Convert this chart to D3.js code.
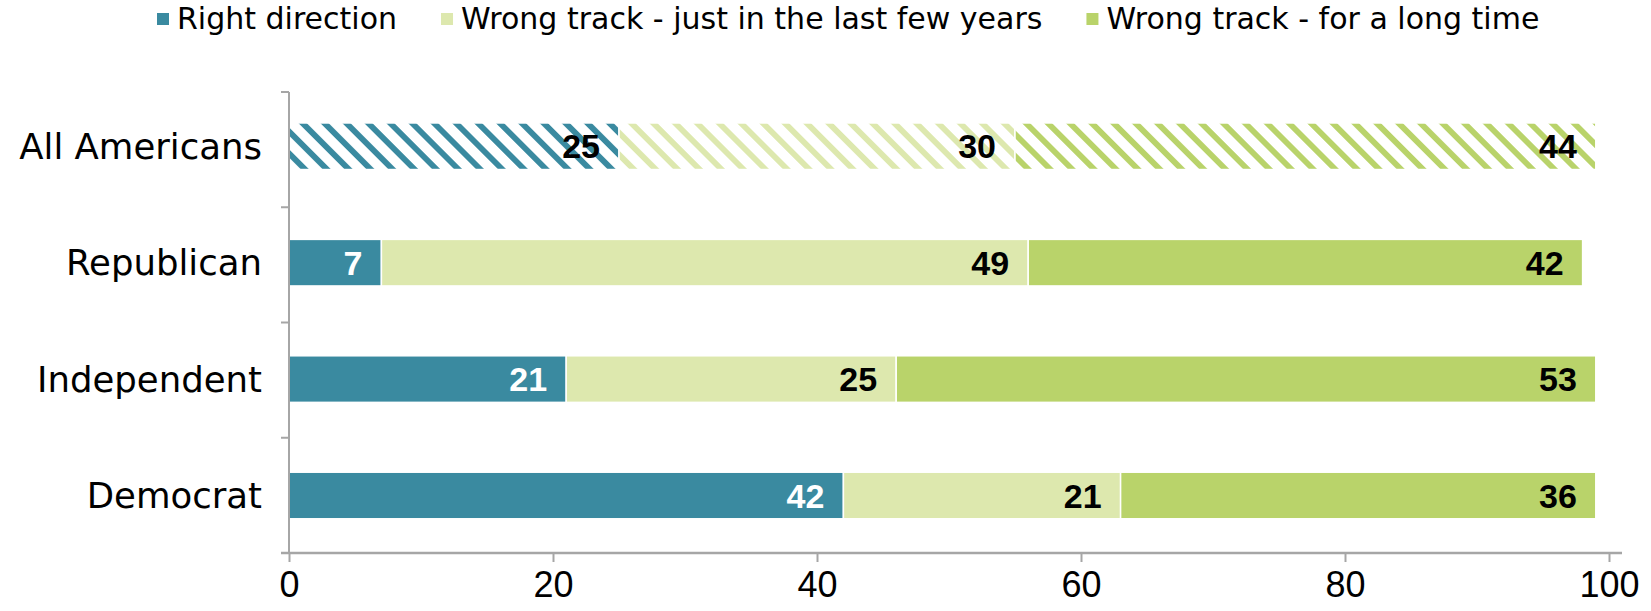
<!DOCTYPE html>
<html>
<head>
<meta charset="utf-8">
<script src="https://cdn.jsdelivr.net/npm/d3@7"></script>
<style>
  body { margin: 0; background: #fff; }
  svg { display: block; }
</style>
</head>
<body>
<div id="chart"></div>
<script>
const categories = ["All Americans", "Republican", "Independent", "Democrat"];
const series = ["Right direction", "Wrong track - just in the last few years", "Wrong track - for a long time"];
const rightDirection = [25, 7, 21, 42];
const wrongRecent = [30, 49, 25, 21];
const wrongLong = [44, 42, 53, 36];
const xTicks = [0, 20, 40, 60, 80, 100];
const hatched = ["All Americans"];

const colores = ["#3a8aa0", "#dde8ae", "#b9d36a"];
const W = 1651, H = 611;
const margin = {left: 289, right: 42, top: 92, bottom: 58};
const fuente = "DejaVu Sans, Verdana, sans-serif";
const fuenteNum = "Liberation Sans, Arial, sans-serif";

const svg = d3.select("#chart").append("svg")
    .attr("width", W).attr("height", H);

const defs = svg.append("defs");
colores.forEach((c, i) => {
    const p = defs.append("pattern")
        .attr("id", "hatch" + i)
        .attr("patternUnits", "userSpaceOnUse")
        .attr("width", 15.5).attr("height", 15.5)
        .attr("patternTransform", "rotate(-45)");
    p.append("rect").attr("width", 15.5).attr("height", 15.5).attr("fill", "#fff");
    p.append("rect").attr("x", 0).attr("width", 5.8).attr("height", 15.5).attr("fill", c);
});

const scx = d3.scaleLinear([0, 100], [margin.left, W - margin.right]);
const scy = d3.scaleBand(categories, [margin.top, H - margin.bottom])
    .paddingInner(0.6).paddingOuter(0.28).align(0.475);
const bands = d3.scaleBand(categories, [margin.top, H - margin.bottom]);

const filas = categories.map((c, i) => ({cat: c, vals: [rightDirection[i], wrongRecent[i], wrongLong[i]]}));
const stack = d3.stack().keys([0, 1, 2]).value((d, k) => d.vals[k]);
const capas = stack(filas);

const gridColor = "#a6a6a6";

// barras
capas.forEach((capa, k) => {
    const g = svg.append("g");
    g.selectAll("rect")
        .data(capa)
        .join("rect")
        .attr("x", d => scx(d[0]))
        .attr("y", d => scy(d.data.cat))
        .attr("width", d => scx(d[1]) - scx(d[0]))
        .attr("height", scy.bandwidth())
        .attr("fill", d => hatched.includes(d.data.cat) ? "url(#hatch" + k + ")" : colores[k])
        .attr("stroke", "#fff")
        .attr("stroke-width", 1.5);

    g.selectAll("text")
        .data(capa)
        .join("text")
        .attr("x", d => scx(d[1]) - 19)
        .attr("y", d => scy(d.data.cat) + scy.bandwidth() / 2)
        .attr("dy", "0.36em")
        .attr("text-anchor", "end")
        .attr("font-family", fuenteNum)
        .attr("font-weight", "bold")
        .attr("font-size", 34)
        .attr("fill", d => (k === 0 && !hatched.includes(d.data.cat)) ? "#fff" : "#000")
        .text(d => d[1] - d[0]);
});

// eje y
const yAxis = svg.append("g");
yAxis.append("line")
    .attr("x1", margin.left).attr("x2", margin.left)
    .attr("y1", margin.top).attr("y2", H - margin.bottom)
    .attr("stroke", gridColor).attr("stroke-width", 2);
const yTickPos = categories.map(c => bands(c));
yAxis.selectAll(".ytick")
    .data(yTickPos)
    .join("line")
    .attr("class", "ytick")
    .attr("x1", margin.left - 8).attr("x2", margin.left)
    .attr("y1", d => d).attr("y2", d => d)
    .attr("stroke", gridColor).attr("stroke-width", 2);
yAxis.selectAll("text")
    .data(categories)
    .join("text")
    .attr("x", margin.left - 27)
    .attr("y", d => scy(d) + scy.bandwidth() / 2)
    .attr("dy", "0.36em")
    .attr("text-anchor", "end")
    .attr("font-family", fuente)
    .attr("font-size", 35.5)
    .attr("fill", "#000")
    .text(d => d);

// eje x
const xAxis = svg.append("g")
    .attr("transform", `translate(0,${H - margin.bottom})`)
    .call(d3.axisBottom(scx).tickValues(xTicks).tickSize(9).tickPadding(9));
xAxis.select(".domain")
    .attr("d", `M${margin.left - 8},0H${scx(100) + 13}`)
    .attr("stroke", gridColor).attr("stroke-width", 2.5);
xAxis.selectAll(".tick line").attr("stroke", gridColor).attr("stroke-width", 2);
xAxis.selectAll(".tick text")
    .attr("font-family", fuenteNum)
    .attr("font-size", 36)
    .attr("fill", "#000");

// leyenda: cuadro, texto y separacion, uno tras otro
const leg = svg.append("g");
let legX = 157;
series.forEach((s, i) => {
    leg.append("rect")
        .attr("x", legX).attr("y", 13)
        .attr("width", 12).attr("height", 12)
        .attr("fill", colores[i]);
    const t = leg.append("text")
        .attr("x", legX + 20).attr("y", 29)
        .attr("font-family", fuente)
        .attr("font-size", 30)
        .attr("fill", "#000")
        .text(s);
    legX += 20 + t.node().getComputedTextLength() + 44;
});
</script>
</body>
</html>
